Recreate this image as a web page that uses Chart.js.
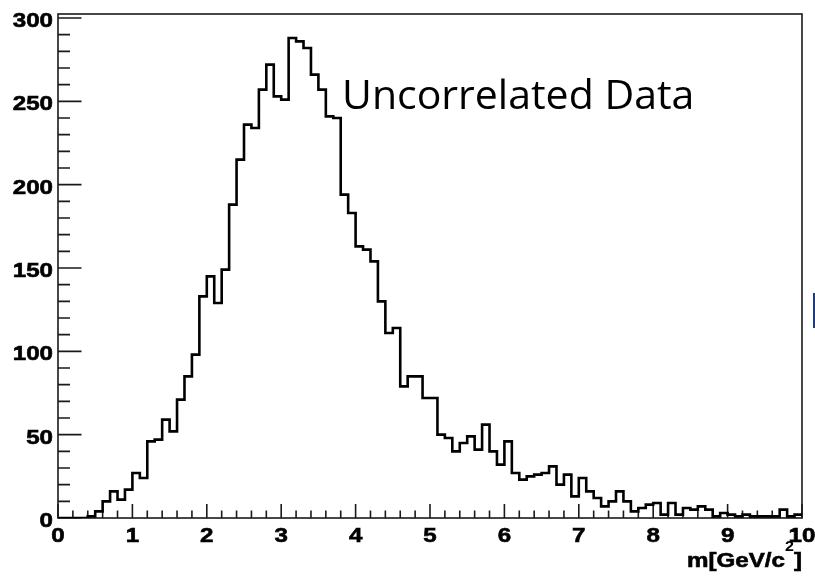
<!DOCTYPE html>
<html>
<head>
<meta charset="utf-8">
<title>Uncorrelated Data - mass histogram</title>
<script src="https://cdn.jsdelivr.net/npm/chart.js@4.4.1/dist/chart.umd.min.js"></script>
<style>
    html, body { margin: 0; padding: 0; background: #fff; }
    #wrap { position: relative; width: 815px; height: 576px; }
</style>
</head>
<body>
<div id="wrap"><canvas id="massChart"></canvas></div>
<script>
// histogram range and bin width (100 bins)
const xRange = [0, 10];
const binWidth = 0.1;

// entries per bin
const binCounts = [
    0, 0, 0, 0, 1, 4, 10, 16, 11, 17,
    27, 24, 46, 47, 59, 52, 71, 85, 98, 133,
    145, 129, 149, 188, 215, 236, 234, 257, 272, 253,
    251, 288, 286, 282, 266, 257, 241, 240, 194, 183,
    163, 161, 154, 130, 111, 114, 79, 85, 85, 72,
    72, 50, 48, 40, 45, 49, 41, 56, 40, 32,
    46, 27, 23, 25, 26, 27, 31, 20, 26, 13,
    24, 16, 12, 7, 10, 16, 10, 4, 6, 8,
    9, 2, 9, 2, 6, 5, 7, 5, 1, 3,
    2, 1, 2, 1, 1, 1, 1, 5, 1, 2
];

// axis tick labels
const xTickLabels = ['0', '1', '2', '3', '4', '5', '6', '7', '8', '9', '10'];
const yTickLabels = ['0', '50', '100', '150', '200', '250', '300'];
const yMax = 302.4;   // ROOT style: max bin * 1.05

const xTitle = 'm[GeV/c';
const xTitleSup = '2';
const xTitleEnd = ']';
const noteText = 'Uncorrelated Data';

// build step points at the left edge of each bin, plus the closing edge
const histPoints = binCounts.map((c, i) => ({ x: xRange[0] + i * binWidth, y: c }));
histPoints.push({ x: xRange[1], y: binCounts[binCounts.length - 1] });

const ROOT_FONT = 'bold 21px "Liberation Sans", Arial, sans-serif';
const STRETCH = 1.15;

// ROOT text looks a bit wider and heavier than plain Liberation Sans bold
function stretchedText(ctx, text, x, y, align) {
    ctx.save();
    ctx.translate(x, y);
    ctx.scale(STRETCH, 1);
    ctx.textAlign = align;
    ctx.fillText(text, 0, 0);
    ctx.strokeText(text, 0, 0);
    ctx.restore();
}

// frame, inward ticks and labels like a ROOT canvas
const rootFramePlugin = {
    id: 'rootFrame',
    beforeDatasetsDraw(chart) {
        const { ctx, chartArea: a, scales: { x, y } } = chart;
        ctx.save();
        ctx.strokeStyle = '#1a1a1a';
        ctx.lineWidth = 1.6;
        ctx.strokeRect(a.left, a.top, a.right - a.left, a.bottom - a.top);

        ctx.beginPath();
        // x ticks: major at integers, minor every 0.2
        for (let k = 0; k <= 50; k++) {
            const px = x.getPixelForValue(k * 0.2);
            const len = (k % 5 === 0) ? 14 : 7.5;
            ctx.moveTo(px, a.bottom);
            ctx.lineTo(px, a.bottom - len);
        }
        // y ticks: major every 50, minor every 10
        for (let v = 0; v <= yMax; v += 10) {
            const py = y.getPixelForValue(v);
            const len = (v % 50 === 0) ? 23.5 : 12;
            ctx.moveTo(a.left, py);
            ctx.lineTo(a.left + len, py);
        }
        ctx.stroke();
        ctx.restore();
    },
    afterDraw(chart) {
        const { ctx, chartArea: a, scales: { x, y } } = chart;
        ctx.save();
        ctx.fillStyle = '#000';
        ctx.strokeStyle = '#000';
        ctx.lineWidth = 0.6;
        ctx.font = ROOT_FONT;
        ctx.textBaseline = 'alphabetic';

        yTickLabels.forEach(lbl => {
            const py = y.getPixelForValue(Number(lbl));
            stretchedText(ctx, lbl, a.left - 5, py + 9, 'right');
        });
        xTickLabels.forEach(lbl => {
            const px = x.getPixelForValue(Number(lbl));
            stretchedText(ctx, lbl, px, a.bottom + 24, 'center');
        });

        // axis title, right aligned at the frame edge, with superscript
        const base = 566.5;
        ctx.save();
        ctx.translate(a.right, base);
        ctx.scale(STRETCH, 1);
        ctx.textAlign = 'right';
        ctx.font = ROOT_FONT;
        const wEnd = ctx.measureText(xTitleEnd).width;
        ctx.fillText(xTitleEnd, 0, 0);
        ctx.strokeText(xTitleEnd, 0, 0);
        ctx.font = 'bold 14px "Liberation Sans", Arial, sans-serif';
        const wSup = ctx.measureText(xTitleSup).width;
        ctx.fillText(xTitleSup, -wEnd, -16);
        ctx.font = ROOT_FONT;
        ctx.fillText(xTitle, -wEnd - wSup, 0);
        ctx.strokeText(xTitle, -wEnd - wSup, 0);
        ctx.restore();

        // slide annotation
        ctx.font = '41px "Open Sans", "Noto Sans", sans-serif';
        ctx.textAlign = 'left';
        ctx.fillText(noteText, 342, 108.5);

        // thin blue edge mark on the right border of the slide
        ctx.strokeStyle = '#1f3a78';
        ctx.lineWidth = 2;
        ctx.beginPath();
        ctx.moveTo(814, 293);
        ctx.lineTo(814, 328);
        ctx.stroke();
        ctx.restore();
    }
};

const ctx = document.getElementById('massChart').getContext('2d');
new Chart(ctx, {
    type: 'line',
    data: {
        datasets: [{
            label: 'entries',
            data: histPoints,
            stepped: true,
            borderColor: '#000',
            borderWidth: 2.6,
            borderJoinStyle: 'miter',
            pointRadius: 0,
            fill: false
        }]
    },
    options: {
        responsive: true,
        maintainAspectRatio: false,
        animation: false,
        layout: {
            padding: { left: 58, right: 13, top: 14, bottom: 58 }
        },
        plugins: {
            legend: { display: false },
            tooltip: { enabled: false }
        },
        scales: {
            x: {
                type: 'linear',
                min: xRange[0],
                max: xRange[1],
                display: false
            },
            y: {
                min: 0,
                max: yMax,
                display: false
            }
        }
    },
    plugins: [rootFramePlugin]
});
</script>
</body>
</html>
